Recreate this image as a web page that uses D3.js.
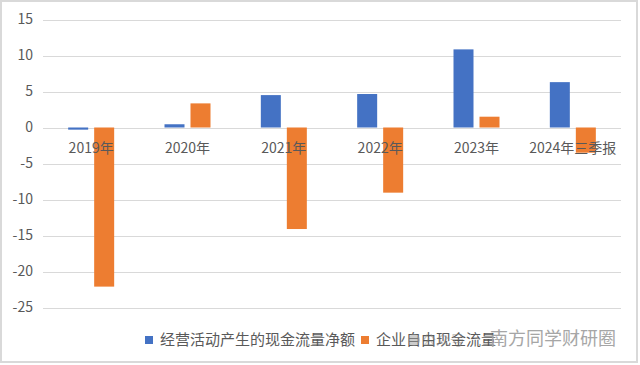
<!DOCTYPE html>
<html lang="zh">
<head>
<meta charset="UTF-8">
<script src="https://cdn.jsdelivr.net/npm/d3@7"></script>
<style>
    body { margin: 0; background: #fff; }
    svg { display: block; }
    text { font-family: "Noto Sans CJK SC", "Noto Sans", sans-serif; fill: #595959; }
    .grid line { stroke: #d9d9d9; stroke-width: 1; shape-rendering: crispEdges; }
    .grid path { display: none; }
</style>
</head>
<body>
<svg width="640" height="365"></svg>
<script>
// data
var years = ["2019年", "2020年", "2021年", "2022年", "2023年", "2024年三季报"];
var seriesNames = ["经营活动产生的现金流量净额", "企业自由现金流量"];
var operatingCF = [-0.3, 0.45, 4.5, 4.65, 10.85, 6.3];
var freeCF = [-22.1, 3.35, -14.1, -9.05, 1.5, -3.5];
var yTicks = [-25, -20, -15, -10, -5, 0, 5, 10, 15];
var colors = ["#4472C4", "#ED7D31"];

var svg = d3.select("svg");

// frame
svg.append("rect")
    .attr("x", 1).attr("y", 1)
    .attr("width", 636).attr("height", 361)
    .attr("fill", "#fff")
    .attr("stroke", "#d9d9d9")
    .attr("stroke-width", 2);

var plotL = 43, plotR = 621, plotT = 19.5, plotB = 307.5;

var x = d3.scaleBand().domain(years).range([plotL, plotR]).padding(0);
var xInner = d3.scaleBand().domain(seriesNames).range([-23, 23]).paddingInner(0.2308);
var y = d3.scaleLinear().domain([-25, 15]).range([plotB, plotT]);

// gridlines
svg.append("g")
    .attr("class", "grid")
    .attr("transform", "translate(" + plotL + ",0)")
    .call(d3.axisRight(y).tickValues(yTicks).tickSize(plotR - plotL).tickFormat(""));

// y tick labels
svg.append("g").selectAll("text")
    .data(yTicks)
    .enter().append("text")
    .attr("x", 33)
    .attr("y", function(d) { return y(d); })
    .attr("dy", "0.35em")
    .attr("text-anchor", "end")
    .style("font-size", "14px")
    .text(function(d) { return d; });

var rows = years.map(function(yr, i) {
    return { year: yr, values: [operatingCF[i], freeCF[i]] };
});

var groups = svg.selectAll(".cat")
    .data(rows)
    .enter().append("g")
    .attr("class", "cat")
    .attr("transform", function(d) { return "translate(" + (x(d.year) + x.bandwidth() / 2) + ",0)"; });

groups.selectAll("rect")
    .data(function(d) { return d.values.map(function(v, j) { return { name: seriesNames[j], v: v, j: j }; }); })
    .enter().append("rect")
    .attr("x", function(d) { return xInner(d.name); })
    .attr("width", xInner.bandwidth())
    .attr("y", function(d) { return y(Math.max(0, d.v)); })
    .attr("height", function(d) { return Math.abs(y(d.v) - y(0)); })
    .attr("fill", function(d) { return colors[d.j]; });

// category labels sit just under the zero line, drawn on top of the bars
groups.append("text")
    .attr("x", 0)
    .attr("y", y(0) + 25)
    .attr("text-anchor", "middle")
    .style("font-size", "14px")
    .text(function(d) { return d.year; });

// legend
var legendX = [145, 361];
var legend = svg.selectAll(".leg")
    .data(seriesNames)
    .enter().append("g")
    .attr("class", "leg")
    .attr("transform", function(d, i) { return "translate(" + legendX[i] + ",336)"; });
legend.append("rect")
    .attr("width", 8).attr("height", 8)
    .attr("fill", function(d, i) { return colors[i]; });
legend.append("text")
    .attr("x", 15)
    .attr("y", 4)
    .attr("dy", "0.35em")
    .style("font-size", "15px")
    .text(function(d) { return d; });

// watermark
var wm = svg.append("g").attr("opacity", 0.5);
wm.append("circle").attr("cx", 414).attr("cy", 340).attr("r", 6).attr("fill", "#9a9a9a");
wm.append("text")
    .attr("x", 422).attr("y", 340).attr("dy", "0.35em")
    .style("font-size", "14px").style("fill", "#8a8a8a")
    .text("公众号");
svg.append("text")
    .attr("x", 490).attr("y", 339).attr("dy", "0.35em")
    .style("font-size", "18px").style("fill", "#a6a6a6")
    .text("南方同学财研圈");
</script>
</body>
</html>
